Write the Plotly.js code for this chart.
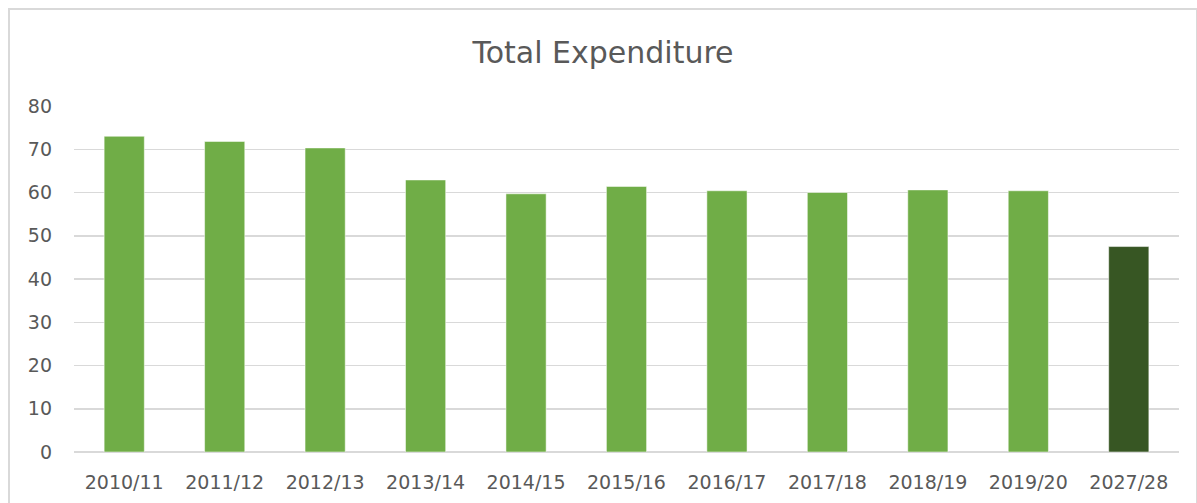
<!DOCTYPE html>
<html>
<head>
<meta charset="utf-8">
<script src="https://cdn.plot.ly/plotly-3.0.1.min.js"></script>
<style>
  html, body { margin: 0; padding: 0; background: #ffffff; overflow: hidden; }
  #frame { position: absolute; left: 8px; top: 8px; width: 1186px; height: 500px; border: 2px solid #d9d9d9; border-bottom: none; }
  #chart { width: 1186px; height: 500px; }
</style>
</head>
<body>
<div id="frame"><div id="chart"></div></div>
<script>
const years = ["2010/11","2011/12","2012/13","2013/14","2014/15","2015/16","2016/17","2017/18","2018/19","2019/20","2027/28"];
const expenditure = [73.0, 71.8, 70.3, 62.9, 59.7, 61.4, 60.4, 60.0, 60.6, 60.4, 47.5];
const barColors = ["#70ad47","#70ad47","#70ad47","#70ad47","#70ad47","#70ad47","#70ad47","#70ad47","#70ad47","#70ad47","#375623"];
const chartTitle = "Total Expenditure";
const yTicks = [0,10,20,30,40,50,60,70,80];

const font = "DejaVu Sans, Open Sans, sans-serif";
Plotly.newPlot("chart", [{
  type: "bar",
  x: years,
  y: expenditure,
  marker: { color: barColors, line: { color: "rgba(255,255,255,0.5)", width: 1 } },
  hoverinfo: "x+y"
}], {
  width: 1186, height: 500,
  margin: { l: 64, r: 17, t: 96, b: 58 },
  paper_bgcolor: "#ffffff", plot_bgcolor: "#ffffff",
  bargap: 0.6,
  showlegend: false,
  title: { text: chartTitle, x: 0.5, xanchor: "center", y: 0.916, yanchor: "middle", yref: "container",
           font: { family: font, size: 30, color: "#595959" } },
  xaxis: { type: "category", showgrid: false, zeroline: false, showline: false, ticks: "",
           tickfont: { family: font, size: 19, color: "#595959" }, ticklabelstandoff: 17 },
  yaxis: { range: [0, 80], tickvals: yTicks, showgrid: true, gridcolor: "#d9d9d9", gridwidth: 1.5,
           zeroline: true, zerolinecolor: "#d9d9d9", zerolinewidth: 1.5, showline: false, ticks: "",
           tickfont: { family: font, size: 19, color: "#595959" }, ticklabelstandoff: 21 }
}, { displayModeBar: false, staticPlot: true });
</script>
</body>
</html>
